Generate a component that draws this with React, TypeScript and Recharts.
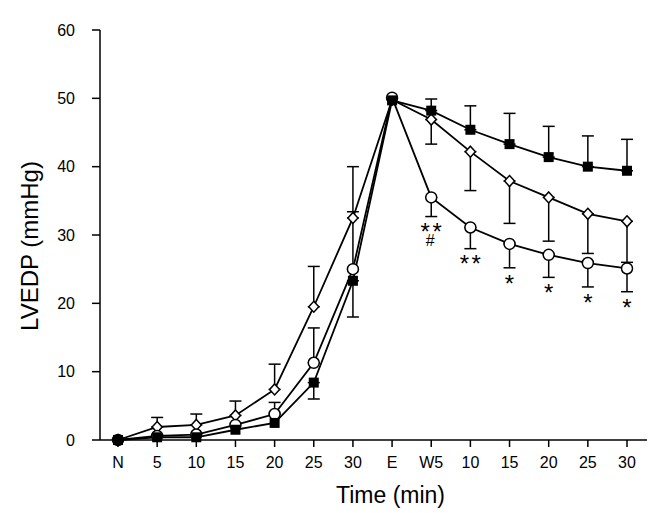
import React from 'react';
import { LineChart, Line, XAxis, YAxis, ErrorBar, LabelList, Label } from 'recharts';

const FONT = '"Liberation Sans", Arial, Helvetica, sans-serif';

const categories = ['N', '5', '10', '15', '20', '25', '30', 'E', 'W5', '10', '15', '20', '25', '30'];
const yTicks = [0, 10, 20, 30, 40, 50, 60];

// open diamonds
const diamondValues = [0, 1.9, 2.2, 3.6, 7.4, 19.5, 32.5, 49.8, 46.9, 42.2, 37.9, 35.5, 33.1, 32.0];
const diamondErrors: (number | [number, number])[] = [0, [0, 1.4], [0, 1.6], [0, 2.1], [0, 3.7], [0, 5.9], [0, 7.5], 0, [3.6, 0], [5.7, 0], [6.2, 0], [6.4, 0], [5.8, 0], [6.0, 0]];

// open circles
const circleValues = [0, 0.6, 0.8, 2.2, 3.8, 11.3, 25.0, 50.1, 35.5, 31.1, 28.7, 27.1, 25.9, 25.1];
const circleErrors: (number | [number, number])[] = [0, 0, 0, 0, [0, 1.7], [0, 5.1], [0, 8.4], 0, [2.8, 0], [3.1, 0], [3.5, 0], [3.3, 0], [3.5, 0], [3.4, 0]];

// filled squares
const squareValues = [0, 0.4, 0.4, 1.5, 2.5, 8.4, 23.3, 49.7, 48.2, 45.4, 43.3, 41.4, 40.0, 39.4];
const squareErrors: (number | [number, number])[] = [0, 0, 0, 0, 0, [2.4, 0], [5.3, 0], 0, [0, 1.7], [0, 3.5], [0, 4.5], [0, 4.5], [0, 4.5], [0, 4.6]];

// significance marks under the circle series
const starMarks = ['', '', '', '', '', '', '', '', '**', '**', '*', '*', '*', '*'];
const hashMarks = ['', '', '', '', '', '', '', '', '#', '', '', '', '', ''];

const lowOf = (e: number | [number, number]) => (Array.isArray(e) ? e[0] : 0);

const data = categories.map((t, i) => ({
  t,
  diamond: diamondValues[i],
  diamondErr: diamondErrors[i],
  circle: circleValues[i],
  circleErr: circleErrors[i],
  square: squareValues[i],
  squareErr: squareErrors[i],
  circleLow: circleValues[i] - lowOf(circleErrors[i]),
}));

const DiamondDot = (props: any) => {
  const { cx, cy, index } = props;
  if (cx == null || cy == null) return <g key={`d-${index}`} />;
  const w = 5, h = 5.5;
  return (
    <polygon
      key={`d-${index}`}
      points={`${cx},${cy - h} ${cx + w},${cy} ${cx},${cy + h} ${cx - w},${cy}`}
      fill="#fff"
      stroke="#000"
      strokeWidth={1.5}
    />
  );
};

const CircleDot = (props: any) => {
  const { cx, cy, index } = props;
  if (cx == null || cy == null) return <g key={`c-${index}`} />;
  return <circle key={`c-${index}`} cx={cx} cy={cy} r={5.5} fill="#fff" stroke="#000" strokeWidth={1.5} />;
};

const SquareDot = (props: any) => {
  const { cx, cy, index } = props;
  if (cx == null || cy == null) return <g key={`s-${index}`} />;
  return <rect key={`s-${index}`} x={cx - 5} y={cy - 5} width={10} height={10} fill="#000" />;
};

const MarkLabel = (props: any) => {
  const { x, y, index } = props;
  const star = starMarks[index];
  const hash = hashMarks[index];
  if (!star && !hash) return null;
  return (
    <text x={x} y={y + 23.8} textAnchor="middle" fontFamily={FONT} fill="#000">
      {star && (
        <tspan x={x + (star.length > 1 ? 1.2 : 0)} y={y + 23.8} fontSize={24} letterSpacing={star.length > 1 ? 2.5 : 0}>
          {star}
        </tspan>
      )}
      {hash && (
        <tspan x={x - 1} y={y + 29} fontSize={16} letterSpacing={0}>
          {hash}
        </tspan>
      )}
    </text>
  );
};

export default function App() {
  return (
    <div style={{ position: 'absolute', left: 0, top: 0, background: '#fff' }}>
      <LineChart width={667} height={513} data={data} margin={{ top: 30, right: 20, bottom: 43, left: 0 }}>
        <XAxis
          dataKey="t"
          interval={0}
          height={30}
          padding={{ left: 18, right: 20 }}
          tickSize={7}
          tickMargin={10}
          stroke="#000"
          axisLine={{ stroke: '#000', strokeWidth: 1.5 }}
          tickLine={{ stroke: '#000', strokeWidth: 1.5 }}
          tick={{ fill: '#000', fontSize: 16, fontFamily: FONT }}
        >
          <Label
            content={(p: any) => {
              const vb = p.viewBox;
              return (
                <text x={vb.x + vb.width / 2 + 17} y={vb.y + 63} textAnchor="middle" fontFamily={FONT} fontSize={23} fill="#000">
                  Time (min)
                </text>
              );
            }}
          />
        </XAxis>
        <YAxis
          domain={[0, 60]}
          ticks={yTicks}
          interval={0}
          width={100}
          tickSize={8}
          tickMargin={17}
          stroke="#000"
          axisLine={{ stroke: '#000', strokeWidth: 1.5 }}
          tickLine={{ stroke: '#000', strokeWidth: 1.5 }}
          tick={{ fill: '#000', fontSize: 16, fontFamily: FONT }}
        >
          <Label
            content={(p: any) => {
              const vb = p.viewBox;
              const cx = vb.x + 37.5;
              const cy = vb.y + vb.height / 2 + 11;
              return (
                <text x={cx} y={cy} transform={`rotate(-90, ${cx}, ${cy})`} textAnchor="middle" fontFamily={FONT} fontSize={24} fill="#000">
                  LVEDP (mmHg)
                </text>
              );
            }}
          />
        </YAxis>
        <Line dataKey="diamond" type="linear" stroke="#000" strokeWidth={1.8} dot={DiamondDot} isAnimationActive={false}>
          <ErrorBar dataKey="diamondErr" direction="y" width={6} stroke="#000" strokeWidth={1.5} />
        </Line>
        <Line dataKey="circle" type="linear" stroke="#000" strokeWidth={1.8} dot={CircleDot} isAnimationActive={false}>
          <ErrorBar dataKey="circleErr" direction="y" width={6} stroke="#000" strokeWidth={1.5} />
        </Line>
        <Line dataKey="square" type="linear" stroke="#000" strokeWidth={1.8} dot={SquareDot} isAnimationActive={false}>
          <ErrorBar dataKey="squareErr" direction="y" width={6} stroke="#000" strokeWidth={1.5} />
        </Line>
        <Line dataKey="circleLow" type="linear" stroke="none" dot={false} activeDot={false} isAnimationActive={false}>
          <LabelList dataKey="circleLow" content={MarkLabel} />
        </Line>
      </LineChart>
    </div>
  );
}
